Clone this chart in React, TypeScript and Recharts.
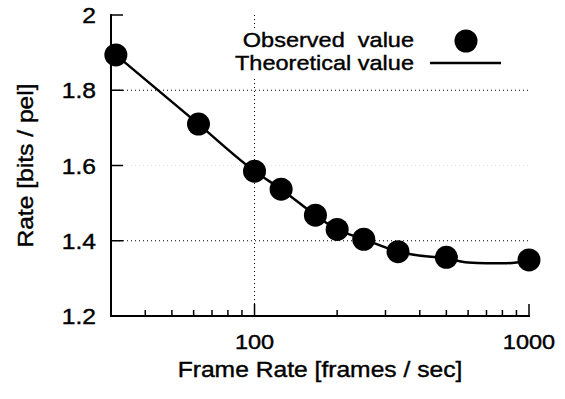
import React from 'react';
import { ComposedChart, Line, Scatter, XAxis, YAxis, ReferenceLine, Legend } from 'recharts';

// frame rates (frames / sec) and measured rates (bits / pel)
const observedFps = [31.25, 62.5, 100, 125, 166.7, 200, 250, 333.3, 500, 1000];
const observedRate = [1.894, 1.71, 1.585, 1.537, 1.468, 1.43, 1.404, 1.371, 1.356, 1.349];

// theoretical curve
const theoryFps = [31.25, 62.5, 100, 125, 166.7, 200, 250, 333.3, 500, 600, 700, 800, 900, 1000];
const theoryRate = [1.894, 1.71, 1.585, 1.537, 1.468, 1.43, 1.404, 1.371, 1.352, 1.342, 1.34, 1.34, 1.342, 1.349];

const xMajorTicks = [100, 1000];
const xMinorTicks = [40, 50, 60, 70, 80, 90, 200, 300, 400, 500, 600, 700, 800, 900];
const yTicks = [1.2, 1.4, 1.6, 1.8, 2];

const observed = observedFps.map((fps, i) => ({ fps, rate: observedRate[i] }));
const theory = theoryFps.map((fps, i) => ({ fps, rate: theoryRate[i] }));
const xTicks = [...xMinorTicks, ...xMajorTicks].sort((a, b) => a - b);

const FONT = '"Liberation Sans", Arial, Helvetica, sans-serif';
const STRETCH = 1.12; // the scanned figure is a bit wider than tall

function WideText({ x, y, anchor = 'middle', size = 21, rotate = 0, children }: any) {
  return (
    <text
      transform={`translate(${x},${y}) rotate(${rotate}) scale(${STRETCH},1)`}
      textAnchor={anchor}
      fontSize={size}
      fontFamily={FONT}
      fill="#000"
      stroke="#000"
      strokeWidth={0.4}
      style={{ whiteSpace: 'pre' }}
    >
      {children}
    </text>
  );
}

const isMajorX = (v: number) => xMajorTicks.includes(v);

function BottomTick({ x, y, payload }: any) {
  const major = isMajorX(payload.value);
  return (
    <g>
      <line x1={x} x2={x} y1={y} y2={y - (major ? 12 : 6)} stroke="#000" strokeWidth={1.5} />
      {major && <WideText x={x} y={y + 33}>{String(payload.value)}</WideText>}
    </g>
  );
}

function TopTick({ x, y, payload }: any) {
  const major = isMajorX(payload.value);
  return <line x1={x} x2={x} y1={y} y2={y + (major ? 12 : 6)} stroke="#000" strokeWidth={1.5} />;
}

function LeftTick({ x, y, payload }: any) {
  return (
    <g>
      <line x1={x} x2={x + 12} y1={y} y2={y} stroke="#000" strokeWidth={1.5} />
      <WideText x={x - 15} y={y + 8} anchor="end" size={22}>{String(payload.value)}</WideText>
    </g>
  );
}

function RightTick({ x, y }: any) {
  return <line x1={x} x2={x - 12} y1={y} y2={y} stroke="#000" strokeWidth={1.5} />;
}

function LegendBox() {
  return (
    <svg width={280} height={50} style={{ display: 'block' }}>
      <WideText x={182} y={19} anchor="end">Observed  value</WideText>
      <circle cx={234} cy={13} r={11.5} fill="#000" />
      <WideText x={182} y={41.5} anchor="end">Theoretical value</WideText>
      <line x1={198} x2={269} y1={35} y2={35} stroke="#000" strokeWidth={2.5} />
    </svg>
  );
}

const border = { stroke: '#000', strokeWidth: 2, strokeLinecap: 'square' as const };

export default function App() {
  return (
    <div style={{ position: 'absolute', left: 0, top: 0, width: 565, height: 399, background: '#fff' }}>
      <ComposedChart width={565} height={399} margin={{ top: 15, right: 36, bottom: 0, left: 11 }}>
        <XAxis
          xAxisId="bottom"
          dataKey="fps"
          type="number"
          scale="log"
          domain={[30, 1000]}
          ticks={xTicks}
          interval={0}
          height={83}
          tickSize={0}
          tickMargin={0}
          tickLine={false}
          axisLine={border}
          tick={(p: any) => <BottomTick {...p} />}
          label={{
            content: ({ viewBox }: any) => (
              <WideText x={viewBox.x + viewBox.width / 2} y={viewBox.y + 61} size={22}>
                Frame Rate [frames / sec]
              </WideText>
            ),
          }}
        />
        <XAxis
          xAxisId="top"
          orientation="top"
          dataKey="fps"
          type="number"
          scale="log"
          domain={[30, 1000]}
          ticks={xTicks}
          interval={0}
          height={0}
          tickSize={0}
          tickMargin={0}
          tickLine={false}
          axisLine={border}
          tick={(p: any) => <TopTick {...p} />}
        />
        <YAxis
          yAxisId="left"
          dataKey="rate"
          type="number"
          domain={[1.2, 2]}
          ticks={yTicks}
          interval={0}
          width={100}
          tickSize={0}
          tickMargin={0}
          tickLine={false}
          axisLine={border}
          tick={(p: any) => <LeftTick {...p} />}
          label={{
            content: ({ viewBox }: any) => (
              <WideText x={viewBox.x + 22} y={viewBox.y + viewBox.height / 2} rotate={-90} size={22}>
                Rate [bits / pel]
              </WideText>
            ),
          }}
        />
        <YAxis
          yAxisId="right"
          orientation="right"
          type="number"
          domain={[1.2, 2]}
          ticks={yTicks}
          interval={0}
          width={0}
          tickSize={0}
          tickMargin={0}
          tickLine={false}
          axisLine={border}
          tick={(p: any) => <RightTick {...p} />}
        />

        <ReferenceLine xAxisId="bottom" yAxisId="left" y={1.8} stroke="#000" strokeWidth={1} strokeDasharray="1 3" />
        <ReferenceLine xAxisId="bottom" yAxisId="left" y={1.6} stroke="#e2e2e2" strokeWidth={1} strokeDasharray="1 3" />
        <ReferenceLine xAxisId="bottom" yAxisId="left" y={1.4} stroke="#000" strokeWidth={1} strokeDasharray="1 3" />
        <ReferenceLine xAxisId="bottom" yAxisId="left" x={100} stroke="#000" strokeWidth={1} strokeDasharray="1 3" />

        <Line
          xAxisId="bottom"
          yAxisId="left"
          data={theory}
          dataKey="rate"
          type="monotone"
          stroke="#000"
          strokeWidth={2.5}
          dot={false}
          activeDot={false}
          isAnimationActive={false}
          name="Theoretical value"
        />
        <Scatter
          xAxisId="bottom"
          yAxisId="left"
          data={observed}
          dataKey="rate"
          fill="#000"
          shape={(p: any) => <circle cx={p.cx} cy={p.cy} r={11.5} fill="#000" />}
          isAnimationActive={false}
          name="Observed value"
        />

        <Legend
          layout="horizontal"
          verticalAlign="middle"
          align="center"
          content={() => <LegendBox />}
          wrapperStyle={{ left: 232, top: 28, width: 280, height: 50, background: '#fff' }}
        />
      </ComposedChart>
    </div>
  );
}
